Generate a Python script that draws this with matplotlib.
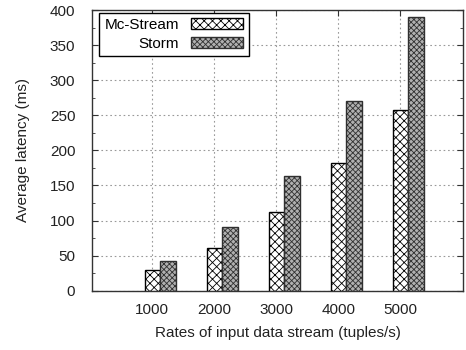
import numpy as np
import matplotlib.pyplot as plt
from matplotlib.ticker import MultipleLocator

plt.rcParams['font.family'] = ['Liberation Sans', 'DejaVu Sans']
plt.rcParams['hatch.linewidth'] = 0.6

# datos
rates = ['1000', '2000', '3000', '4000', '5000']
mc_stream = [30, 61, 112, 182, 258]
storm = [42, 91, 164, 271, 390]

x = np.arange(len(rates))
w = 0.25

fig = plt.figure(figsize=(4.66, 3.5), dpi=100)
ax = fig.add_axes([0.1974, 0.1694, 0.7962, 0.802])

ax.bar(x - w / 2, mc_stream, w, facecolor='white', edgecolor='black',
       hatch='xxxx', linewidth=1.0, label='Mc-Stream', zorder=3)
ax.bar(x + w / 2, storm, w, facecolor='#b0b0b0', edgecolor='#303030',
       hatch='xxxxxx', linewidth=1.0, label='Storm', zorder=3)

ax.set_xlim(-1.097, 4.887)
ax.set_ylim(0, 400)
ax.set_xticks(x - w / 2)
ax.set_xticklabels(rates)
ax.yaxis.set_major_locator(MultipleLocator(50))
ax.yaxis.set_minor_locator(MultipleLocator(25))
ax.tick_params(axis='both', which='both', direction='in', top=True, right=True,
               labelsize=11, colors='#333333', labelcolor='#222222')
ax.tick_params(axis='y', which='major', length=4, pad=12)
ax.tick_params(axis='y', which='minor', length=2)
ax.tick_params(axis='x', length=4, pad=9)

ax.grid(True, linestyle=(0, (1.5, 2.5)), color='#999999', linewidth=0.8, zorder=0)

for s in ax.spines.values():
    s.set_color('#333333')
    s.set_linewidth(1.0)

ax.set_xlabel('Rates of input data stream (tuples/s)', fontsize=11, labelpad=6,
              color='#222222')
ax.set_ylabel('Average latency (ms)', fontsize=11, labelpad=14, color='#222222')

ax.legend(loc='upper left', bbox_to_anchor=(0.02, 0.99), markerfirst=False,
          fancybox=False, edgecolor='black', framealpha=1, fontsize=11,
          handlelength=3.4, handleheight=0.7, borderpad=0.35, labelspacing=0.3,
          borderaxespad=0)

fig.savefig('out.png', dpi=100)
